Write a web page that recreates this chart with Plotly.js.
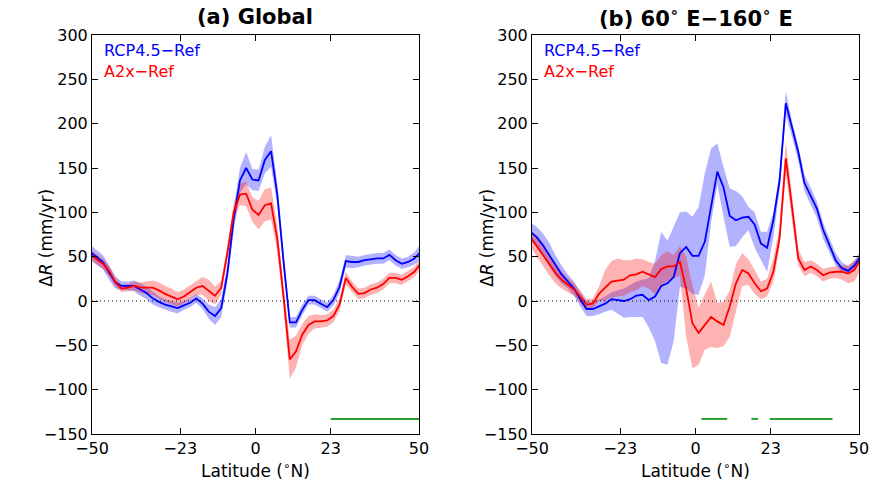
<!DOCTYPE html>
<html>
<head>
<meta charset="utf-8">
<script src="https://cdn.plot.ly/plotly-3.0.1.min.js"></script>
<style>html,body{margin:0;padding:0;background:#fff;}#chart{width:872px;height:484px;}</style>
</head>
<body>
<div id="chart"></div>
<script>
// Latitude grid (deg N)
const lat = [-50.48,-48.57,-46.67,-44.76,-42.86,-40.95,-39.05,-37.14,-35.24,-33.33,-31.43,-29.52,-27.62,-25.71,-23.81,-21.90,-20.00,-18.10,-16.19,-14.29,-12.38,-10.48,-8.57,-6.67,-4.76,-2.86,-0.95,0.95,2.86,4.76,6.67,8.57,10.48,12.38,14.29,16.19,18.10,20.00,21.90,23.81,25.71,27.62,29.52,31.43,33.33,35.24,37.14,39.05,40.95,42.86,44.76,46.67,48.57,50.48];

// (a) Global
const globalRcp = [55,49,44,32,21,17,17,17,13,9,3,-1,-4,-6,-8,-5,-2,3,-3,-12,-17,-8,32,92,136,150,137,136,159,169,120,45,-24,-24,-10,1,1,-3,-7,1,16,45,44,44,46,47,48,48,52,46,42,44,48,55];
const globalRcpErr = [8,8,8,8,7,5,5,6,7,7,7,6,6,6,6,5,5,5,6,8,10,10,10,12,14,18,12,12,15,18,12,10,6,6,6,5,5,5,5,6,7,7,7,6,6,6,6,6,6,6,6,6,7,9];
const globalA2x = [52,47,42,34,21,14,15,17,15,15,15,12,8,5,2,5,10,15,17,12,6,15,55,100,120,121,103,97,108,110,70,5,-66,-57,-38,-27,-23,-23,-22,-17,-4,26,16,8,9,13,15,19,26,26,24,28,33,42];
const globalA2xErr = [6,6,6,6,5,4,4,5,6,7,8,9,9,9,8,8,8,8,10,12,10,8,8,10,12,14,14,16,18,18,15,12,22,18,12,10,8,7,7,7,7,7,6,6,6,6,6,6,6,6,6,6,6,6];

// (b) 60E-160E
const regRcp = [78,72,63,52,40,30,22,14,2,-9,-9,-6,-3,2,1,0,2,6,7,1,5,17,20,27,54,61,51,51,67,106,146,128,96,91,94,95,86,65,60,91,136,223,195,168,133,118,104,80,63,46,37,34,40,50];
const regRcpLo = [68,62,52,40,28,20,14,6,-6,-17,-17,-15,-12,-10,-14,-19,-18,-18,-18,-30,-45,-70,-72,-45,16,14,8,7,29,88,131,95,61,62,72,80,60,46,33,72,125,210,185,158,124,108,94,70,55,40,32,30,35,44];
const regRcpHi = [88,84,76,66,52,40,30,22,10,0,-1,2,5,10,12,14,18,22,24,26,45,78,68,85,100,101,95,106,144,172,178,151,127,124,118,106,100,78,78,100,145,237,203,175,142,128,112,88,72,54,44,39,46,56];
const regA2x = [72,62,52,42,32,24,18,13,5,-4,-3,8,15,22,23,24,29,30,33,30,27,36,39,39,44,14,-25,-36,-27,-18,-23,-27,-6,20,35,31,20,11,14,33,71,161,106,48,35,39,35,29,32,33,33,31,35,47];
const regA2xLo = [62,50,40,29,20,14,10,6,-2,-10,-8,0,0,4,5,6,10,12,17,14,8,18,22,26,28,-40,-76,-72,-55,-52,-53,-51,-40,-10,17,18,8,2,5,22,60,145,90,40,28,32,28,22,25,26,24,20,22,35];
const regA2xHi = [80,72,62,52,42,33,26,20,12,2,3,16,35,45,48,46,46,48,47,44,42,52,56,52,62,50,18,-8,8,22,-2,-1,12,42,54,47,35,22,25,48,82,180,120,58,44,46,42,36,38,39,40,40,45,52];

// Significance segments (latitude start/end)
const sigGlobal = [[23,50.5]];
const sigRegion = [[1.8,9.7],[17.1,19.1],[22.7,41.9]];
const sigLevel = -133;

const xTicks = [-50,-23,0,23,50];
const yTicks = [-150,-100,-50,0,50,100,150,200,250,300];

const BLUE = '#0000ff', RED = '#ff0000', GREEN = '#2e9e2e';
const FONT = 'DejaVu Sans, sans-serif';

function bandTrace(lo, hi, color, xa, ya) {
  return {x: lat.concat(lat.slice().reverse()), y: hi.concat(lo.slice().reverse()),
    fill: 'toself', fillcolor: color, mode: 'lines', line: {width: 0},
    hoverinfo: 'skip', showlegend: false, xaxis: xa, yaxis: ya};
}
function lineTrace(y, color, xa, ya) {
  return {x: lat, y: y, mode: 'lines', line: {color: color, width: 1.8},
    showlegend: false, xaxis: xa, yaxis: ya};
}
function sigTraces(segs, xa, ya) {
  return segs.map(s => ({x: s, y: [sigLevel, sigLevel], mode: 'lines',
    line: {color: GREEN, width: 2}, showlegend: false, xaxis: xa, yaxis: ya}));
}

const gRcpLo = globalRcp.map((v,i) => v - globalRcpErr[i]);
const gRcpHi = globalRcp.map((v,i) => v + globalRcpErr[i]);
const gA2xLo = globalA2x.map((v,i) => v - globalA2xErr[i]);
const gA2xHi = globalA2x.map((v,i) => v + globalA2xErr[i]);

const BF = 'rgba(0,0,255,0.3)', RF = 'rgba(255,0,0,0.3)';
const traces = [
  bandTrace(gRcpLo, gRcpHi, BF, 'x', 'y'),
  bandTrace(gA2xLo, gA2xHi, RF, 'x', 'y'),
  lineTrace(globalRcp, BLUE, 'x', 'y'),
  lineTrace(globalA2x, RED, 'x', 'y'),
  ...sigTraces(sigGlobal, 'x', 'y'),
  bandTrace(regRcpLo, regRcpHi, BF, 'x2', 'y2'),
  bandTrace(regA2xLo, regA2xHi, RF, 'x2', 'y2'),
  lineTrace(regRcp, BLUE, 'x2', 'y2'),
  lineTrace(regA2x, RED, 'x2', 'y2'),
  ...sigTraces(sigRegion, 'x2', 'y2')
];

const W = 872, H = 484, T = 35, B = 434;
const px = v => v / W;
const py = v => (B - v) / (B - T);

function xAxis(domain, anchor) {
  return {domain: domain, anchor: anchor, range: [-50, 50], tickvals: xTicks,
    ticks: 'inside', ticklen: 6, tickwidth: 1, tickcolor: '#000', mirror: 'ticks',
    showline: true, linecolor: '#000', linewidth: 1, showgrid: false, zeroline: false,
    tickfont: {family: FONT, size: 16, color: '#000'}};
}
function yAxis(domain, anchor) {
  return {domain: domain, anchor: anchor, range: [-150, 300], tickvals: yTicks,
    ticks: 'inside', ticklen: 6, tickwidth: 1, tickcolor: '#000', mirror: 'ticks',
    showline: true, linecolor: '#000', linewidth: 1, showgrid: false, zeroline: false,
    tickfont: {family: FONT, size: 16, color: '#000'}};
}

const ann = (text, x, y, opts) => Object.assign({text: text, x: x, y: y, xref: 'paper', yref: 'paper',
  xanchor: 'center', yanchor: 'middle', showarrow: false,
  font: {family: FONT, size: 17, color: '#000'}}, opts || {});

const c1 = (92 + 419) / 2, c2 = (532 + 859) / 2;
const layout = {
  width: W, height: H, margin: {l: 0, r: 0, t: T, b: H - B},
  paper_bgcolor: '#fff', plot_bgcolor: '#fff', showlegend: false,
  xaxis: xAxis([px(92), px(419)], 'y'),
  yaxis: yAxis([0, 1], 'x'),
  xaxis2: xAxis([px(532), px(859)], 'y2'),
  yaxis2: yAxis([0, 1], 'x2'),
  shapes: [
    {type: 'line', xref: 'x', yref: 'y', x0: -50, x1: 50, y0: 0, y1: 0, line: {color: '#000', width: 1, dash: '1px,3px'}},
    {type: 'line', xref: 'x2', yref: 'y2', x0: -50, x1: 50, y0: 0, y1: 0, line: {color: '#000', width: 1, dash: '1px,3px'}}
  ],
  annotations: [
    ann('<b>(a) Global</b>', px(c1), py(17), {font: {family: FONT, size: 21, color: '#000'}}),
    ann('<b>(b) 60<sup>∘</sup> E−160<sup>∘</sup> E</b>', px(c2), py(17), {font: {family: FONT, size: 21, color: '#000'}}),
    ann('RCP4.5−Ref', px(102), py(50), {xanchor: 'left', font: {family: FONT, size: 16, color: BLUE}}),
    ann('A2x−Ref', px(102), py(71), {xanchor: 'left', font: {family: FONT, size: 16, color: RED}}),
    ann('RCP4.5−Ref', px(542), py(50), {xanchor: 'left', font: {family: FONT, size: 16, color: BLUE}}),
    ann('A2x−Ref', px(542), py(71), {xanchor: 'left', font: {family: FONT, size: 16, color: RED}}),
    ann('Latitude (<sup>∘</sup>N)', px(c1), py(470)),
    ann('Latitude (<sup>∘</sup>N)', px(c2), py(470)),
    ann('Δ<i>R</i> (mm/yr)', px(46), py(238), {textangle: -90}),
    ann('Δ<i>R</i> (mm/yr)', px(487), py(238), {textangle: -90})
  ]
};

Plotly.newPlot('chart', traces, layout, {displayModeBar: false, staticPlot: true});
</script>
</body>
</html>
